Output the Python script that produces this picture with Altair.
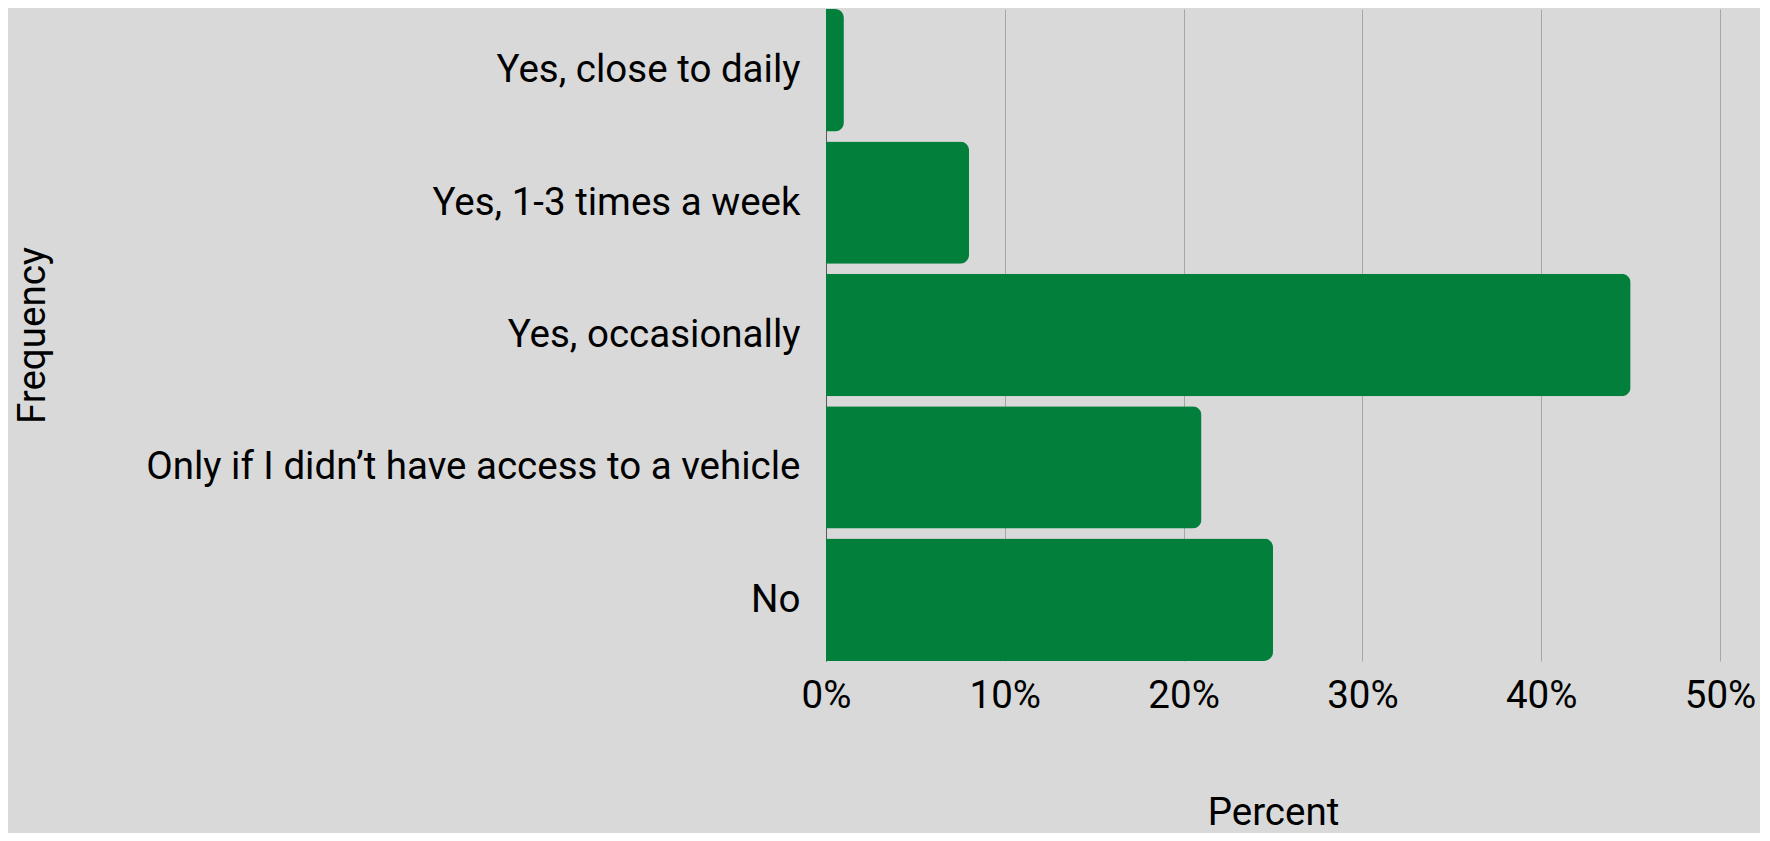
import altair as alt
import pandas as pd

categories = [
    "Yes, close to daily",
    "Yes, 1-3 times a week",
    "Yes, occasionally",
    "Only if I didn\u2019t have access to a vehicle",
    "No",
]
percent = [1, 8, 45, 21, 25]
x_ticks = [0, 10, 20, 30, 40, 50]

df = pd.DataFrame({"Frequency": categories, "Percent": percent})

FONT = "Roboto"
FS = 38.5

chart = (
    alt.Chart(df)
    .mark_bar(color="#017F3B", cornerRadiusEnd=9)
    .encode(
        x=alt.X(
            "Percent:Q",
            scale=alt.Scale(domain=[0, 50], nice=False),
            axis=alt.Axis(
                values=x_ticks,
                labelExpr="datum.value + '%'",
                title="Percent",
                grid=True,
                gridColor="#A6A6A6",
                gridWidth=1,
                domain=False,
                ticks=False,
                labelPadding=16,
                labelFont=FONT,
                labelFontSize=FS,
                labelColor="#000000",
                labelFlush=False,
                titleFont=FONT,
                titleFontSize=FS,
                titleFontWeight="normal",
                titleColor="#000000",
                titleY=163,
                titleBaseline="alphabetic",
            ),
        ),
        y=alt.Y(
            "Frequency:N",
            sort=categories,
            scale=alt.Scale(paddingInner=0.075, paddingOuter=0),
            axis=alt.Axis(
                title="Frequency",
                domain=True,
                domainColor="#595959",
                domainWidth=1,
                ticks=False,
                grid=False,
                labelPadding=26,
                labelFont=FONT,
                labelFontSize=FS,
                labelColor="#000000",
                labelLimit=1000,
                titleFont=FONT,
                titleFontSize=FS,
                titleFontWeight="normal",
                titleColor="#000000",
                titleAngle=-90,
                titleX=-794,
                titleY=326,
                titleAlign="center",
                titleBaseline="middle",
            ),
        ),
    )
    .properties(
        width=894,
        height=652,
        background="#D9D9D9",
        padding={"left": 818, "top": 1, "right": 40, "bottom": 172},
        autosize=alt.AutoSizeParams(type="none"),
    )
    .configure_view(stroke=None)
)

chart.save("out.html", embed_options={"renderer": "svg", "actions": False})
